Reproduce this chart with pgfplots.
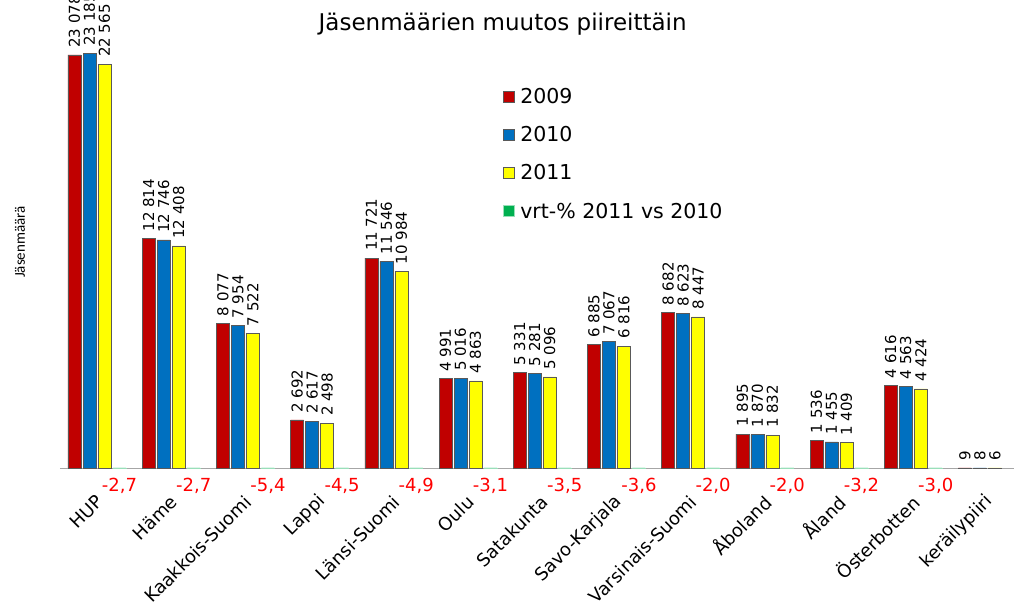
\documentclass[border=0pt]{standalone}
\usepackage{fontspec}
\setmainfont{DejaVu Sans}
\newfontfamily\calibri{Carlito}
\usepackage{pgfplots}
\pgfplotsset{compat=1.18}
\definecolor{cred}{HTML}{C00000}
\definecolor{cblue}{HTML}{0070C0}
\definecolor{cyellow}{HTML}{FFFF00}
\definecolor{cgreen}{HTML}{00B050}
\begin{document}
\begin{tikzpicture}[x=1pt,y=1pt]
\begin{axis}[
  at={(59.9pt,134pt)}, anchor=south west,
  scale only axis, width=964.6pt, height=447.4pt,
  xmin=-0.5, xmax=12.5, ymin=0, ymax=25000,
  ybar=2pt, bar width=13pt,
  axis x line*=bottom, axis y line*=left,
  y axis line style={draw=none},
  x axis line style={draw=black!35, line width=0.8pt},
  xtick={0,...,12},
  xticklabels={HUP,Häme,Kaakkois-Suomi,Lappi,Länsi-Suomi,Oulu,Satakunta,Savo-Karjala,Varsinais-Suomi,Åboland,Åland,Österbotten,keräilypiiri},
  xtick style={draw=none},
  xticklabel style={xshift=5pt, yshift=-24pt, rotate=45, anchor=east, font=\fontsize{18}{20}\selectfont},
  ytick=\empty,
  clip=false,
  title={Jäsenmäärien muutos piireittäin},
  title style={at={(axis description cs:0.459,1.001)}, anchor=center, yshift=-10pt, font=\fontsize{23}{26}\selectfont},
  ylabel={\calibri Jäsenmäärä},
  ylabel style={at={(axis description cs:-0.0414,0.505)}, anchor=center, font=\fontsize{15}{17}\selectfont},
  /pgf/number format/assume math mode=true,
  /pgf/number format/1000 sep={\ },
  legend image code/.code={\path[draw=none,fill=none] (0pt,0pt) -- (15pt,0pt); \draw[#1] (0pt,-5.5pt) rectangle (11pt,5.5pt);},
  legend style={at={(axis description cs:0.456,0.858)}, anchor=north west, draw=none, fill=none,
    font=\fontsize{20.5}{22}\selectfont, row sep=17.5pt},
  legend cell align=left,
  every node near coord/.append style={rotate=90, anchor=west, font=\fontsize{15}{17}\selectfont, text=black, inner ysep=1pt, inner xsep=7pt},
]
\addplot[fill=cred, draw=black!65, line width=0.6pt, nodes near coords] coordinates {
(0,23078) (1,12814) (2,8077) (3,2692) (4,11721) (5,4991) (6,5331) (7,6885) (8,8682) (9,1895) (10,1536) (11,4616) (12,9)};
\addplot[fill=cblue, draw=black!65, line width=0.6pt, nodes near coords] coordinates {
(0,23185) (1,12746) (2,7954) (3,2617) (4,11546) (5,5016) (6,5281) (7,7067) (8,8623) (9,1870) (10,1455) (11,4563) (12,8)};
\addplot[fill=cyellow, draw=black!65, line width=0.6pt, nodes near coords] coordinates {
(0,22565) (1,12408) (2,7522) (3,2498) (4,10984) (5,4863) (6,5096) (7,6816) (8,8447) (9,1832) (10,1409) (11,4424) (12,6)};
\addplot[fill=cgreen, draw=cgreen!40, line width=0.8pt, point meta=explicit symbolic, nodes near coords,
  every node near coord/.append style={rotate=-90, anchor=center, inner sep=2pt, yshift=-18pt, text=red, font=\fontsize{18}{20}\selectfont}]
  table[meta=lab] {
x y lab
0 -2.7 -2,7
1 -2.7 -2,7
2 -5.4 -5,4
3 -4.5 -4,5
4 -4.9 -4,9
5 -3.1 -3,1
6 -3.5 -3,5
7 -3.6 -3,6
8 -2.0 -2,0
9 -2.0 -2,0
10 -3.2 -3,2
11 -3.0 -3,0
};
\legend{2009,2010,2011,vrt-\% 2011 vs 2010}
\end{axis}
\pgfresetboundingbox
\useasboundingbox (0,0) rectangle (1014,602);
\end{tikzpicture}
\end{document}
